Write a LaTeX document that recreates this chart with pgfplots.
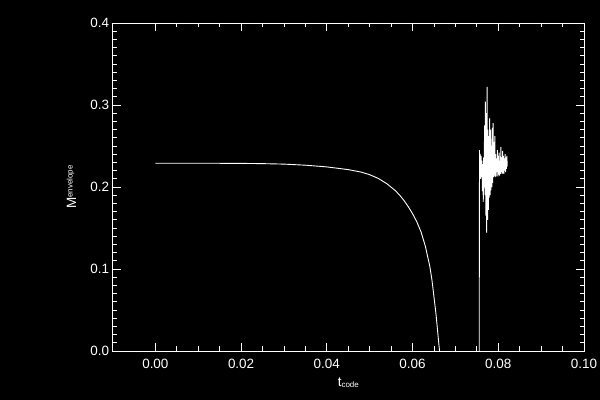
\documentclass[border=0pt]{standalone}
\usepackage{fontspec}
\setmainfont{Liberation Sans}
\usepackage{pgfplots}
\usepackage{pgfplotstable}
\pgfplotsset{compat=1.18}
\pgfplotstableread{
x y
0.000 0.2290
0.010 0.2290
0.020 0.2288
0.025 0.2285
0.030 0.2279
0.035 0.2266
0.040 0.2245
0.045 0.2212
0.048 0.2182
0.050 0.2150
0.052 0.2105
0.054 0.2040
0.056 0.1955
0.057 0.1900
0.058 0.1835
0.059 0.1760
0.060 0.1675
0.061 0.1575
0.062 0.1450
0.063 0.1275
0.064 0.1040
0.0645 0.0875
0.065 0.0660
0.0655 0.0435
0.066 0.0160
0.0663 0.0000
}\envelope
\pgfplotstableread{
x y
0.07555 0.000
0.07558 0.120
0.07562 0.245
0.0757 0.215
0.0758 0.240
0.0759 0.210
0.0760 0.238
0.0761 0.212
0.0762 0.232
0.0763 0.195
0.0764 0.228
0.0765 0.182
0.0766 0.236
0.0767 0.200
0.0768 0.275
0.0769 0.190
0.0770 0.304
0.0771 0.165
0.0772 0.290
0.0773 0.144
0.0774 0.322
0.0775 0.160
0.0776 0.270
0.0777 0.172
0.0778 0.262
0.0779 0.187
0.0780 0.284
0.0781 0.190
0.0782 0.270
0.0783 0.196
0.0784 0.250
0.0785 0.200
0.0786 0.272
0.0787 0.205
0.0788 0.278
0.0789 0.212
0.0790 0.255
0.0791 0.214
0.0792 0.262
0.0793 0.212
0.0794 0.240
0.0795 0.213
0.0796 0.235
0.0797 0.218
0.0798 0.245
0.0799 0.213
0.0800 0.238
0.0801 0.215
0.0802 0.242
0.0803 0.214
0.0804 0.232
0.0805 0.216
0.0806 0.249
0.0807 0.218
0.0808 0.236
0.0809 0.216
0.0810 0.244
0.0811 0.217
0.0812 0.238
0.0813 0.216
0.0814 0.235
0.0815 0.220
0.0816 0.240
0.0817 0.218
0.0818 0.236
0.0819 0.222
0.0820 0.238
0.0821 0.225
}\noisy
\begin{document}
\begin{tikzpicture}
\fill[black] (0bp,0bp) rectangle (600bp,400bp);
\useasboundingbox (0bp,0bp) rectangle (600bp,400bp);
\begin{axis}[
  at={(112.5bp,49bp)}, anchor=south west, scale only axis,
  width=471.5bp, height=328bp,
  xmin=-0.01, xmax=0.10, ymin=0, ymax=0.4,
  axis line style={white, line width=0.9bp},
  every tick/.style={white, line width=0.9bp},
  xtick={0,0.02,0.04,0.06,0.08,0.10},
  xticklabels={0.00,0.02,0.04,0.06,0.08,0.10},
  ytick={0,0.1,0.2,0.3,0.4},
  yticklabels={0.0,0.1,0.2,0.3,0.4},
  minor x tick num=3, minor y tick num=9,
  scaled ticks=false,
  tick align=inside,
  major tick length=8bp, minor tick length=4.5bp,
  ticklabel style={white, font=\fontsize{13.5}{14}\selectfont},
  xticklabel style={yshift=-4.5bp},
  /pgf/number format/assume math mode=true,
]
\addplot[white, line width=0.9bp, no marks] table {\envelope};
\addplot[white, line width=0.9bp, no marks] table {\noisy};
\end{axis}
\node[white, anchor=base, inner sep=0pt] at (348.3bp,13.3bp)
  {\fontsize{13.5}{14}\selectfont t\raisebox{-1.2bp}{\fontsize{8}{8}\selectfont code}};
\node[white, rotate=90, anchor=base, inner sep=0pt] at (76bp,213bp)
  {\fontsize{13.5}{14}\selectfont M\raisebox{3.5bp}{\fontsize{8}{8}\selectfont envelope}};
\end{tikzpicture}
\end{document}
